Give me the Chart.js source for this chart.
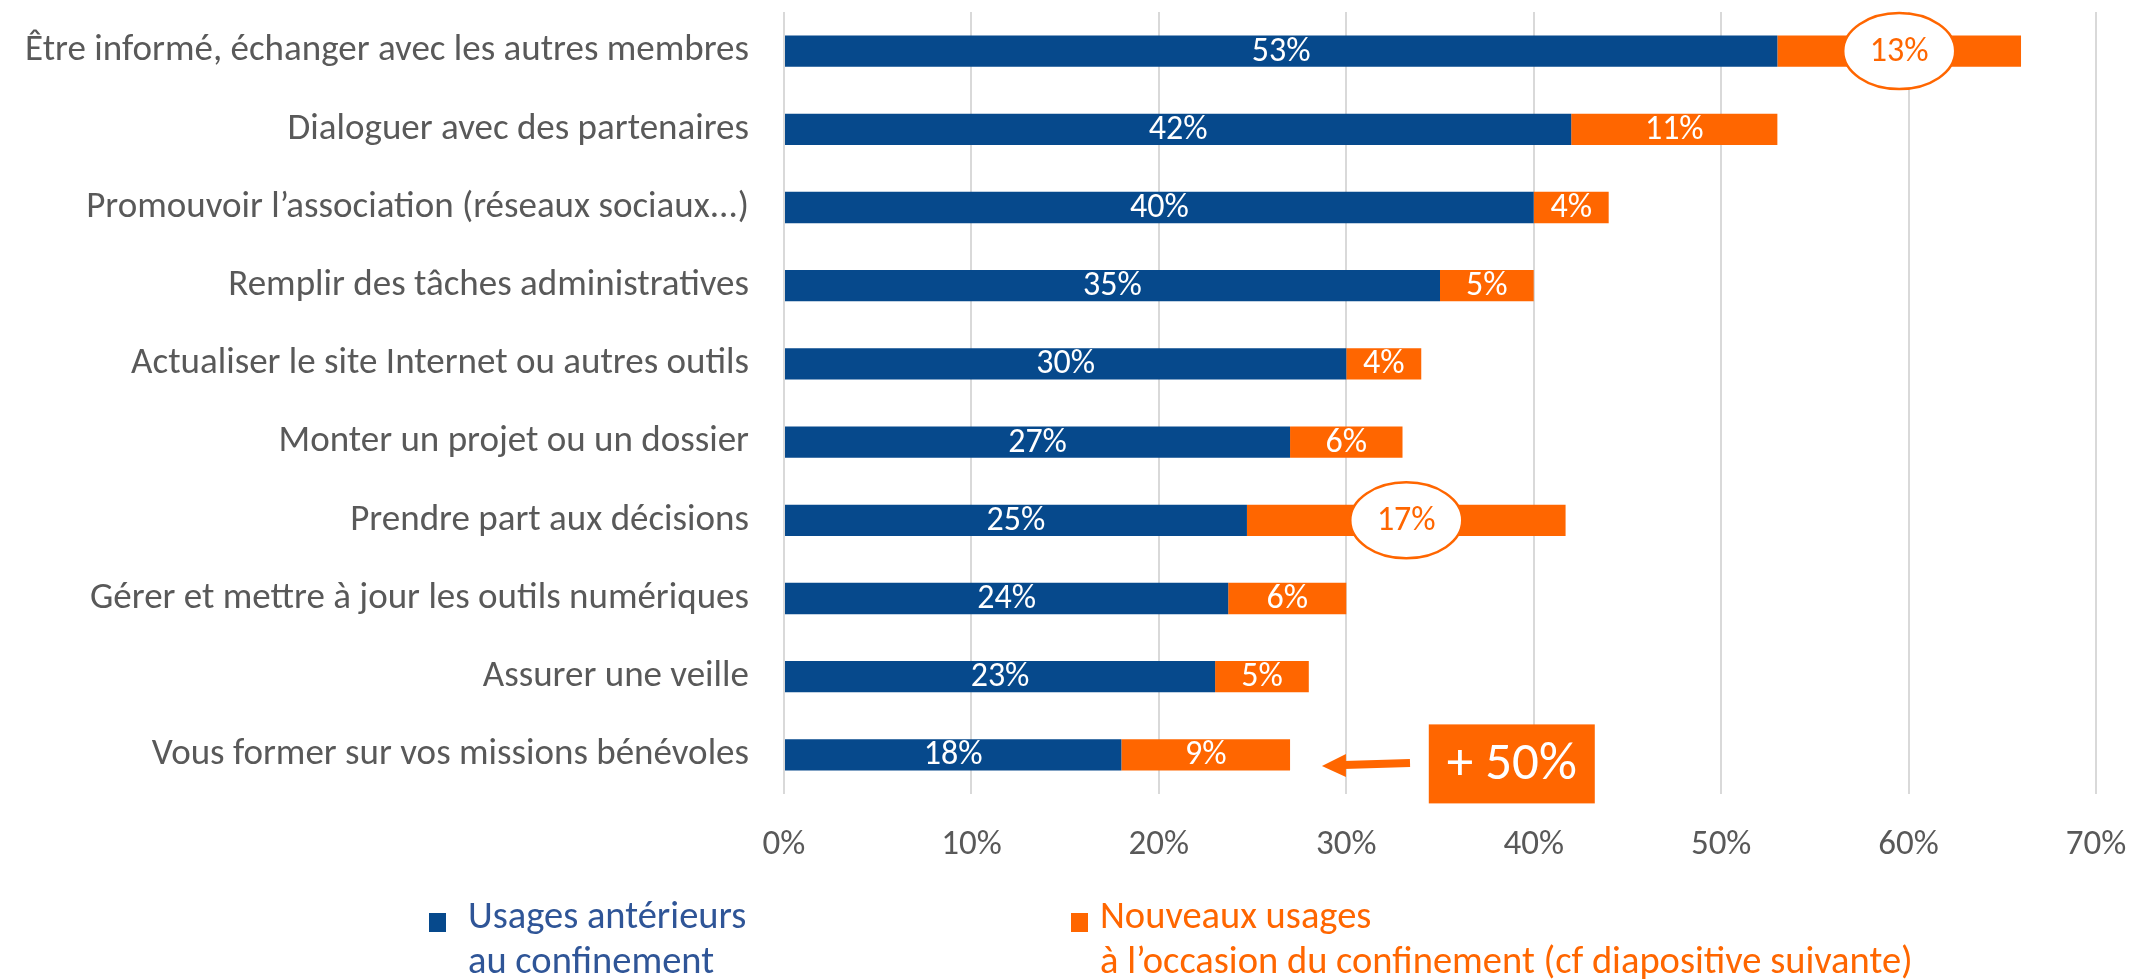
<!DOCTYPE html>
<html><head><meta charset="utf-8">
<script src="https://cdn.jsdelivr.net/npm/chart.js@4.4.1/dist/chart.umd.min.js"></script>
<style>
html,body{margin:0;padding:0;background:#fff;}
#wrap{position:relative;width:2134px;height:980px;overflow:hidden;}
#c{position:absolute;left:0;top:0;}
.leg{position:absolute;font-family:Carlito,Calibri,"Open Sans",sans-serif;font-size:38.5px;line-height:45px;white-space:nowrap;}
.sw{position:absolute;width:17px;height:19px;}
</style></head><body>
<div id="wrap"><canvas id="c" width="2134" height="980"></canvas><div id="legend"></div></div>
<script>
const categories = [
  "Être informé, échanger avec les autres membres",
  "Dialoguer avec des partenaires",
  "Promouvoir l’association (réseaux sociaux...)",
  "Remplir des tâches administratives",
  "Actualiser le site Internet ou autres outils",
  "Monter un projet ou un dossier",
  "Prendre part aux décisions",
  "Gérer et mettre à jour les outils numériques",
  "Assurer une veille",
  "Vous former sur vos missions bénévoles"
];
const usagesAnterieurs = [53, 42, 40, 35, 30, 27, 24.7, 23.7, 23, 18];
const nouveauxUsages   = [13, 11, 4, 5, 4, 6, 17, 6.3, 5, 9];
const seriesNames = [
  ["Usages antérieurs", "au confinement"],
  ["Nouveaux usages", "à l’occasion du confinement (cf diapositive suivante)"]
];
const xTickValues = [0, 10, 20, 30, 40, 50, 60, 70];
const highlightedNew = [0, 6];
const calloutText = "+ 50%";

const FONT = "Carlito, Calibri, 'Open Sans', sans-serif";
const BLUE = "#06498C", ORANGE = "#FF6600", GREY = "#595959";

// HTML legend
const legendColors = [BLUE, ORANGE];
const legendTextColors = ["#2F5597", ORANGE];
const legendPos = [{sx:429, tx:468}, {sx:1071, tx:1100}];
let lh = "";
seriesNames.forEach((lines, i) => {
  lh += `<div class="sw" style="left:${legendPos[i].sx}px;top:913px;background:${legendColors[i]}"></div>`;
  lh += `<div class="leg" style="left:${legendPos[i].tx}px;top:892px;color:${legendTextColors[i]}">${lines.join("<br>")}</div>`;
});
document.getElementById("legend").innerHTML = lh;

const labelPlugin = {
  id: "labels",
  afterDatasetsDraw(chart) {
    const ctx = chart.ctx;
    ctx.save();
    chart.data.datasets.forEach((ds, di) => {
      const meta = chart.getDatasetMeta(di);
      meta.data.forEach((bar, i) => {
        const cx = (bar.x + bar.base) / 2, cy = bar.y;
        const txt = Math.round(ds.data[i]) + "%";
        ctx.font = `34px ${FONT}`;
        ctx.textAlign = "center";
        ctx.textBaseline = "middle";
        if (di === 1 && highlightedNew.includes(i)) {
          ctx.beginPath();
          ctx.ellipse(cx, cy, 56, 38, 0, 0, Math.PI * 2);
          ctx.fillStyle = "#fff";
          ctx.fill();
          ctx.lineWidth = 2.5;
          ctx.strokeStyle = ORANGE;
          ctx.stroke();
          ctx.fillStyle = ORANGE;
        } else {
          ctx.fillStyle = "#fff";
        }
        ctx.fillText(txt, cx, cy + 1);
      });
    });
    // callout box and arrow anchored to the scales
    const xs = chart.scales.x, ys = chart.scales.y;
    const last = categories.length - 1;
    const cy = ys.getPixelForValue(last) + 9;
    const bx = xs.getPixelForValue(38.83);
    ctx.fillStyle = ORANGE;
    ctx.fillRect(bx - 83, cy - 39.5, 166, 79);
    ctx.fillStyle = "#fff";
    ctx.font = `53px ${FONT}`;
    ctx.textAlign = "center";
    ctx.textBaseline = "middle";
    ctx.fillText(calloutText, bx, cy + 2);
    const ax1 = xs.getPixelForValue(33.4), ax0 = xs.getPixelForValue(28.7);
    ctx.strokeStyle = ORANGE;
    ctx.fillStyle = ORANGE;
    ctx.lineWidth = 8;
    ctx.beginPath();
    ctx.moveTo(ax1, cy - 1);
    ctx.lineTo(ax0 + 22, cy + 1);
    ctx.stroke();
    ctx.beginPath();
    ctx.moveTo(ax0, cy + 2);
    ctx.lineTo(ax0 + 24, cy - 10);
    ctx.lineTo(ax0 + 24, cy + 13);
    ctx.closePath();
    ctx.fill();
    ctx.restore();
  }
};

new Chart(document.getElementById("c"), {
  type: "bar",
  data: {
    labels: categories,
    datasets: [
      { label: seriesNames[0].join(" "), data: usagesAnterieurs, backgroundColor: BLUE, barPercentage: 0.4, categoryPercentage: 1.0 },
      { label: seriesNames[1].join(" "), data: nouveauxUsages, backgroundColor: ORANGE, barPercentage: 0.4, categoryPercentage: 1.0 }
    ]
  },
  options: {
    indexAxis: "y",
    responsive: false,
    animation: false,
    layout: { padding: { top: 12, right: 38, left: 0, bottom: 0 } },
    plugins: { legend: { display: false }, tooltip: { enabled: false } },
    scales: {
      x: {
        stacked: true, min: 0, max: 70,
        afterBuildTicks(s) { s.ticks = xTickValues.map(v => ({ value: v })); },
        afterFit(s) { s.height = 186; s.paddingLeft = 0; s.paddingRight = 0; },
        ticks: { callback: v => v + "%", color: GREY, font: { family: FONT, size: 35 }, padding: 30 },
        grid: { color: "#D9D9D9", lineWidth: 2, drawTicks: false },
        border: { display: false }
      },
      y: {
        stacked: true,
        afterFit(s) { s.width = 784; s.paddingTop = 0; s.paddingBottom = 0; },
        ticks: { color: GREY, font: { family: FONT, size: 37 }, padding: 35 },
        grid: { display: false, drawTicks: false },
        border: { display: false }
      }
    }
  },
  plugins: [labelPlugin]
});
</script>
</body></html>
